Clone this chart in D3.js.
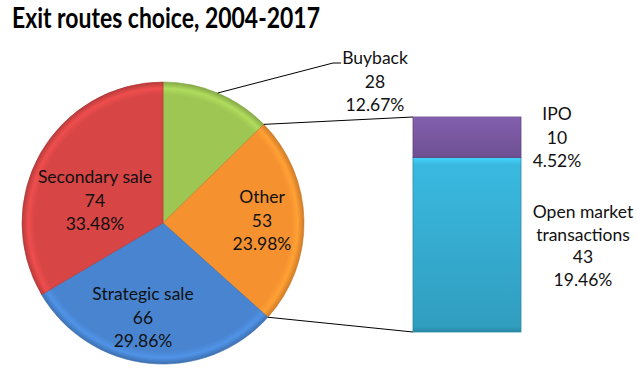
<!DOCTYPE html>
<html>
<head>
<meta charset="utf-8">
<script src="https://cdn.jsdelivr.net/npm/d3@7"></script>
<style>
  body { margin: 0; background: #fff; }
  text { font-family: Lato, "Open Sans", sans-serif; fill: #111; }
</style>
</head>
<body>
<svg id="chart" width="637" height="376"></svg>
<script>
// pie slices, clockwise from 12 o'clock
const pieLabels = ["Buyback", "Other", "Strategic sale", "Secondary sale"];
const pieValues = [28, 53, 66, 74];
const piePercents = ["12.67%", "23.98%", "29.86%", "33.48%"];
const pieColors = ["#9dc653", "#f5912f", "#4884d0", "#d74545"];

// "Other" broken down in the bar
const barLabels = ["Open market transactions", "IPO"];
const barValues = [43, 10];
const barPercents = ["19.46%", "4.52%"];
const barColors = ["#38b3d8", "#7d5ba6"];

const svg = d3.select("#chart");
const defs = svg.append("defs");

svg.append("text")
  .attr("x", 12)
  .attr("y", 28)
  .attr("textLength", 308)
  .attr("lengthAdjust", "spacingAndGlyphs")
  .style("font-size", "29px")
  .style("font-weight", "bold")
  .style("fill", "#000")
  .text("Exit routes choice, 2004-2017");

const cx = 163, cy = 223, r = 141;
const fs = "17.5px";

let pieData = pieLabels.map((d, i) => ({label: d, value: pieValues[i], pct: piePercents[i], color: pieColors[i]}));
let pie = d3.pie().sort(null).value(d => d.value);
let arcs = pie(pieData);
let arc = d3.arc().innerRadius(0).outerRadius(r);

// bevel-ish radial shading per slice (coords are in the translated group)
arcs.forEach((a, i) => {
  let c = d3.color(a.data.color);
  let g = defs.append("radialGradient")
    .attr("id", "pg" + i)
    .attr("gradientUnits", "userSpaceOnUse")
    .attr("cx", 0).attr("cy", 0).attr("r", r);
  g.append("stop").attr("offset", 0).attr("stop-color", c);
  g.append("stop").attr("offset", 0.91).attr("stop-color", c);
  g.append("stop").attr("offset", 0.955).attr("stop-color", c.brighter(0.3));
  g.append("stop").attr("offset", 1).attr("stop-color", c.darker(0.45));
});

let pg = svg.append("g").attr("transform", `translate(${cx},${cy})`);

pg.selectAll("path")
  .data(arcs)
  .enter().append("path")
    .attr("d", arc)
    .attr("fill", (d, i) => `url(#pg${i})`)
    .attr("stroke", d => d3.color(d.data.color).darker(0.6))
    .attr("stroke-width", 0.6);

// labels inside slices (Buyback sits outside with a leader)
const labelPos = {
  "Other": [99, -20],
  "Strategic sale": [-20, 77],
  "Secondary sale": [-68, -40]
};
arcs.forEach(a => {
  let p = labelPos[a.data.label];
  if (!p) return;
  let t = pg.append("text")
    .attr("text-anchor", "middle")
    .style("font-size", fs);
  [a.data.label, a.data.value, a.data.pct].forEach((s, j) => {
    t.append("tspan").attr("x", p[0]).attr("y", p[1] + j * 23.5).text(s);
  });
});

// Buyback leader and label
let bb = arcs[0];
let mid = (bb.startAngle + bb.endAngle) / 2;
let p0 = [cx + r * Math.sin(mid), cy - r * Math.cos(mid)];
svg.append("polyline")
  .attr("points", [p0, [333, 63], [341, 63]].map(p => p.join(",")).join(" "))
  .attr("fill", "none")
  .attr("stroke", "#000")
  .attr("stroke-width", 1);
let bt = svg.append("text").attr("text-anchor", "middle").style("font-size", fs);
[bb.data.label, bb.data.value, bb.data.pct].forEach((s, j) => {
  bt.append("tspan").attr("x", 375).attr("y", 64 + j * 23.5).text(s);
});

// bar of the "Other" slice
const bx0 = 413, bx1 = 521;
let total = d3.sum(barValues);
let y = d3.scaleLinear().domain([0, total]).range([332, 117]);

let other = arcs[1];
let topPt = [cx + r * Math.sin(other.startAngle), cy - r * Math.cos(other.startAngle)];
let botPt = [cx + r * Math.sin(other.endAngle), cy - r * Math.cos(other.endAngle)];
svg.append("line")
  .attr("x1", topPt[0]).attr("y1", topPt[1])
  .attr("x2", bx0).attr("y2", y(total))
  .attr("stroke", "#000");
svg.append("line")
  .attr("x1", botPt[0]).attr("y1", botPt[1])
  .attr("x2", bx0).attr("y2", y(0))
  .attr("stroke", "#000");

let stack = [];
let acc = 0;
barValues.forEach((v, i) => {
  stack.push({label: barLabels[i], value: v, pct: barPercents[i], color: barColors[i], y0: acc, y1: acc + v});
  acc += v;
});

stack.forEach((d, i) => {
  let c = d3.color(d.color);
  let g = defs.append("linearGradient")
    .attr("id", "bg" + i)
    .attr("x1", 0).attr("y1", 0).attr("x2", 0).attr("y2", 1);
  g.append("stop").attr("offset", 0).attr("stop-color", c.brighter(0.5));
  g.append("stop").attr("offset", 0.04).attr("stop-color", c.brighter(0.1));
  g.append("stop").attr("offset", 0.97).attr("stop-color", c.darker(0.35));
  g.append("stop").attr("offset", 1).attr("stop-color", c.darker(0.8));
});

svg.append("g").selectAll("rect")
  .data(stack)
  .enter().append("rect")
    .attr("x", bx0)
    .attr("width", bx1 - bx0)
    .attr("y", d => y(d.y1))
    .attr("height", d => y(d.y0) - y(d.y1))
    .attr("fill", (d, i) => `url(#bg${i})`)
    .attr("stroke", d => d3.color(d.color).darker(0.7))
    .attr("stroke-width", 0.8);

// bar labels
let ipo = stack[1];
let it = svg.append("text").attr("text-anchor", "middle").style("font-size", fs);
[ipo.label, ipo.value, ipo.pct].forEach((s, j) => {
  it.append("tspan").attr("x", 557).attr("y", 120 + j * 23.5).text(s);
});
let om = stack[0];
let ot = svg.append("text").attr("text-anchor", "middle").style("font-size", fs);
["Open market", "transactions", om.value, om.pct].forEach((s, j) => {
  ot.append("tspan").attr("x", 583).attr("y", 218 + j * 22.5).text(s);
});
</script>
</body>
</html>
